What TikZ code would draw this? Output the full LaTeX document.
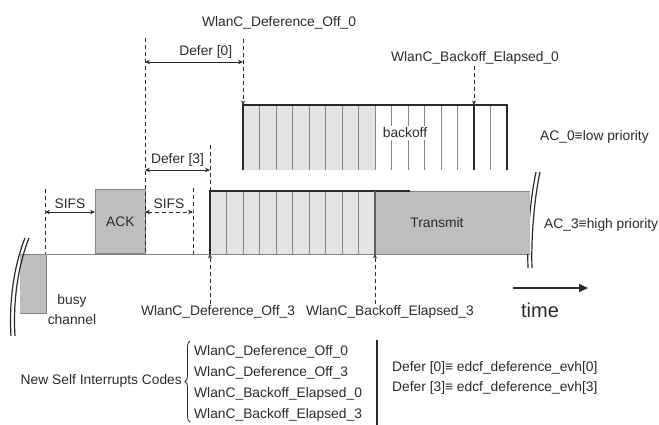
\documentclass[tikz,border=0pt]{standalone}
\usepackage{fontspec}
\setmainfont{Liberation Sans}
\usetikzlibrary{arrows.meta,positioning,calc,decorations.pathreplacing}
\definecolor{slotgrey}{HTML}{E4E4E4}
\definecolor{busygrey}{HTML}{BEBEBE}
\definecolor{linegrey}{HTML}{858585}
\definecolor{inkgrey}{HTML}{2A2A2A}
\tikzset{
  lbl/.style={font=\fontsize{13.8}{16}\selectfont, inner sep=1pt, text=inkgrey},
  slotline/.style={draw=linegrey, line width=0.9pt},
  boxline/.style={draw=inkgrey, line width=2pt},
  pulse/.style={draw=linegrey, fill=busygrey, line width=0.8pt},
  guide/.style={draw=inkgrey, dashed, dash pattern=on 4pt off 3pt, line width=0.7pt},
  arr/.style={{Stealth[length=5pt,width=4.5pt]}-{Stealth[length=5pt,width=4.5pt]}, draw=inkgrey, line width=0.7pt},
  darr/.style={arr, dash pattern=on 4pt off 3pt},
  sig/.style={-{Stealth[length=4.5pt,width=4pt]}, guide},
  brk/.style={draw=inkgrey, line width=1.2pt}
}

\begin{document}
\begin{tikzpicture}[x=1pt,y=-1pt]
\useasboundingbox (0,0) rectangle (659,425);
% channel and busy part
\fill[busygrey] (20,254) rectangle (46,313);
\draw[slotline] (20,313) -- (46,313) -- (46,254);
\draw[slotline] (20,254) -- (530,254);
\node[lbl, align=center, font=\fontsize{13.8}{20}\selectfont] (busy) at (72,310) {busy\\channel};
% breaks
\draw[brk] (25,238) .. controls (13,268) and (9,305) .. (11,336);
\draw[brk] (29,238) .. controls (17,268) and (13,305) .. (15,336);
\draw[brk] (536,172) .. controls (530,200) and (527,240) .. (528,268);
\draw[brk] (540,172) .. controls (534,200) and (531,240) .. (532,268);
% ACK
\node[pulse, lbl, minimum width=50, minimum height=64, anchor=south west] (ack) at (95,254) {ACK};
% AC_3 : slots and transmit
\coordinate (b3) at (210,254);
\coordinate (e3) at (375,254);
\fill[busygrey] (375,191) rectangle (530,254);
\draw[slotline] (410,191) -- (530,191);
\fill[slotgrey] (210,191) rectangle (375,254);
\foreach \k in {1,...,9}
  \draw[slotline] ({210+16.5*\k},191) -- ({210+16.5*\k},254);
\draw[boxline] (210,254) -- (210,191) -- (410,191);
\draw[boxline, line width=1.5pt, draw=linegrey!70!black] (375,191) -- (375,254);
\node[lbl] (tx) at (437,223) {Transmit};
% AC_0 : backoff
\coordinate (b0) at (243,105);
\coordinate (e0) at (474,105);
\fill[slotgrey] (243,105) rectangle (375,170);
\foreach \k in {1,...,15}
  \draw[slotline] ({243+16.5*\k},105) -- ({243+16.5*\k},170);
\draw[boxline] (474,105) -- (474,170);
\draw[boxline] (243,170) -- (243,105) -- (507,105) -- (507,170);
\node[lbl, fill=white, inner sep=2pt] (bo) at (405,133) {backoff};
\node[lbl, anchor=west] (ac0) at (539,137) {AC\_0≡low priority};
\node[lbl, anchor=west] (ac3) at (543,225) {AC\_3≡high priority};
% guides
\coordinate (g1) at (45,212);
\coordinate (g2) at (145,212);
\coordinate (g3) at (193,212);
\draw[guide] (45,189) -- (g1) -- (45,254);
\draw[guide] (145,38) -- (145,254);
\draw[guide] (193,188) -- (g3) -- (193,254);
\draw[guide] (210,145) -- (210,191);
% intervals
\draw[arr] (g1) -- node[lbl, above=2pt] (sifs1) {SIFS} (ack.west |- g1);
\draw[darr] (g2) -- node[lbl, above=2pt] (sifs2) {SIFS} (g3);
\coordinate (d3l) at (145,170);
\coordinate (d3r) at (210,170);
\draw[arr] (d3l) -- node[lbl, above=2pt] (def3) {Defer [3]} (d3r);
\coordinate (d0l) at (145,62);
\coordinate (d0r) at (243,62);
\draw[arr] (d0l) -- node[lbl, above=2pt, pos=0.62] (def0) {Defer [0]} (d0r);
% signals
\node[lbl] (off0) at (279,23) {WlanC\_Deference\_Off\_0};
\node[lbl] (el0) at (475,58) {WlanC\_Backoff\_Elapsed\_0};
\node[lbl] (off3) at (218,312) {WlanC\_Deference\_Off\_3};
\node[lbl] (el3) at (390,312) {WlanC\_Backoff\_Elapsed\_3};
\draw[sig] ([yshift=-8pt]b0 |- off0.south) -- (b0);
\draw[sig] (e0 |- el0.south) -- (e0);
\draw[sig] (b3 |- off3.north) -- (b3);
\draw[sig] (e3 |- el3.north) -- (e3);
% time
\node[lbl, font=\fontsize{20}{22}\selectfont] (time) at (540,310) {time};
\coordinate (t0) at (513,288);
\coordinate (t1) at (588,288);
\draw[-{Triangle[length=9pt,width=8pt]}, line width=2.2pt, draw=inkgrey] (t0) -- (t1);
% codes
\node[lbl, anchor=east] (new) at (183,381) {New Self Interrupts Codes};
\node[lbl, anchor=west, align=left, font=\fontsize{13.8}{21}\selectfont] (codes) at (193,383)
  {WlanC\_Deference\_Off\_0\\WlanC\_Deference\_Off\_3\\WlanC\_Backoff\_Elapsed\_0\\WlanC\_Backoff\_Elapsed\_3};
\draw[decorate, decoration={brace, amplitude=5pt}, draw=inkgrey, line width=0.8pt] (190,422) -- (190,341);
\draw[draw=inkgrey, line width=1.3pt] (377,340) -- (377,425);
\node[lbl, anchor=west, align=left, font=\fontsize{13.8}{20}\selectfont] (defs) at (391,378)
  {Defer [0]≡ edcf\_deference\_evh[0]\\Defer [3]≡ edcf\_deference\_evh[3]};
\end{tikzpicture}
\end{document}
